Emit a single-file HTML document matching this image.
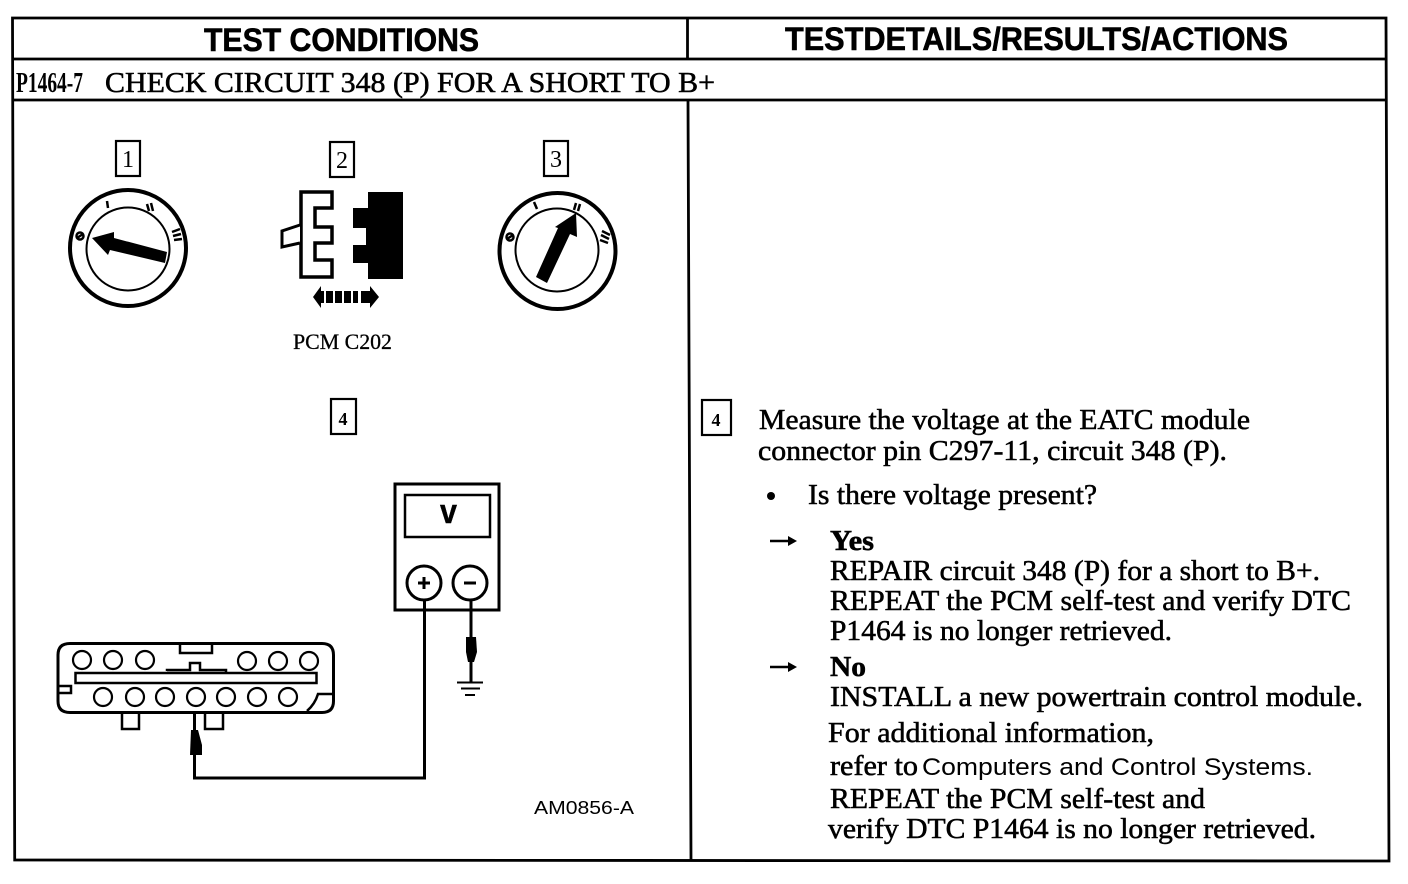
<!DOCTYPE html>
<html><head><meta charset="utf-8"><style>
html,body{margin:0;padding:0;background:#fff}
svg{display:block}
text{fill:#000}
.s{font-family:"Liberation Serif",serif}
.a{font-family:"Liberation Sans",sans-serif}
.t{font-family:"Liberation Serif",serif;font-size:29px;stroke:#000;stroke-width:.55px}
</style></head><body>
<svg width="1408" height="884" viewBox="0 0 1408 884" xmlns="http://www.w3.org/2000/svg">
<rect width="1408" height="884" fill="#fff"/>
<!-- table -->
<g fill="none" stroke="#000" stroke-width="2.8">
<path d="M12.5 18H1386L1389 861L14.7 860Z"/>
<path d="M13 59H1386M13.5 100H1387"/>
<path d="M687.5 18V59M688 100L691 860"/>
</g>
<g class="a" font-weight="bold" font-size="32" stroke="#000" stroke-width=".6">
<text x="204" y="51" textLength="275" lengthAdjust="spacingAndGlyphs">TEST CONDITIONS</text>
<text x="785" y="50" textLength="503" lengthAdjust="spacingAndGlyphs">TESTDETAILS/RESULTS/ACTIONS</text>
</g>
<text class="s" x="16" y="92" font-size="28" font-weight="bold" textLength="67" lengthAdjust="spacingAndGlyphs">P1464-7</text>
<text class="t" x="105" y="92" textLength="610" lengthAdjust="spacingAndGlyphs">CHECK CIRCUIT 348 (P) FOR A SHORT TO B+</text>

<!-- step boxes -->
<g fill="none" stroke="#000" stroke-width="2.2">
<rect x="116" y="141" width="24" height="35"/>
<rect x="330" y="142" width="24" height="35"/>
<rect x="544" y="141" width="24" height="35"/>
<rect x="331" y="399" width="25" height="35"/>
<rect x="702" y="400" width="29" height="35"/>
</g>
<g class="s" font-size="24" text-anchor="middle">
<text x="128" y="167">1</text><text x="342" y="168">2</text><text x="556" y="167">3</text>
<text x="343" y="425" font-size="18" font-weight="bold">4</text><text x="716" y="426" font-size="18" font-weight="bold">4</text>
</g>

<!-- ignition 1 -->
<g fill="none" stroke="#000">
<circle cx="128" cy="248" r="58" stroke-width="4"/>
<circle cx="128" cy="249" r="41.5" stroke-width="2"/>
</g>
<path d="M92 238L114 232V238L167 252L165 263L110 250L108 255Z" fill="#000"/>
<g fill="none" stroke="#000" stroke-width="2.5">
<circle cx="80" cy="236" r="3.5"/><path d="M77 238L83 234"/>
<path d="M107 201L108 208"/>
<path d="M147 204L149 211M151 203L153 211"/>
<path d="M172 232L180 229M173 236L181 234M174 240L182 239"/>
</g>
<!-- ignition 3 -->
<g fill="none" stroke="#000">
<circle cx="557.5" cy="251" r="58" stroke-width="4"/>
<circle cx="557" cy="250" r="41.5" stroke-width="2"/>
</g>
<path d="M576 213L577 237L570 234L547 283L536 277L558 228L555 227Z" fill="#000"/>
<g fill="none" stroke="#000" stroke-width="2.5">
<circle cx="510" cy="237" r="3.5"/><path d="M507 239L513 235"/>
<path d="M534 202L537 209"/>
<path d="M576 203L574 210M580 204L578 211"/>
<path d="M602 231L610 235M601 235L609 239M600 240L608 243"/>
</g>

<!-- connector 2 -->
<path d="M301 192H332V208H315V227H332V243H315V260H332V277H301Z" fill="#fff" stroke="#000" stroke-width="3.5"/>
<path d="M300 225L282 231V247L300 243" fill="#fff" stroke="#000" stroke-width="3"/>
<path d="M368 192H403V279H368V263H353V245H366V228H353V208H368Z" fill="#000"/>
<path d="M313 297L321 286V308Z M379 297L370 286V308Z" fill="#000"/>
<g fill="#000"><rect x="319" y="291" width="5" height="12"/><rect x="326" y="291" width="7" height="12"/><rect x="335" y="291" width="7" height="12"/><rect x="344" y="291" width="7" height="12"/><rect x="353" y="291" width="5" height="12"/><rect x="361" y="291" width="10" height="12"/></g>
<text class="s" x="293" y="349" font-size="22" textLength="99" lengthAdjust="spacingAndGlyphs" stroke="#000" stroke-width=".3">PCM C202</text>

<!-- meter -->
<g fill="none" stroke="#000">
<rect x="395" y="484" width="104" height="126" stroke-width="3"/>
<rect x="405" y="495" width="85" height="42" stroke-width="2.5"/>
<circle cx="424" cy="583" r="17" stroke-width="3"/>
<circle cx="470" cy="583" r="17" stroke-width="3"/>
</g>
<text class="a" x="440" y="523" font-size="34" font-weight="bold" textLength="17" lengthAdjust="spacingAndGlyphs" stroke="#000" stroke-width=".4">v</text>
<path d="M418 583H430M424 577V589M464 583H476" stroke="#000" stroke-width="3" fill="none"/>
<path d="M424.5 600V778H194.5V712" fill="none" stroke="#000" stroke-width="3"/>
<path d="M471 600V682" fill="none" stroke="#000" stroke-width="3"/>
<path d="M466 637H476L477 652L474 662H468L466 652Z" fill="#000"/>
<path d="M457 682.5H483M461 688.5H480M465 695H475" stroke="#000" stroke-width="2" fill="none"/>
<path d="M191 730H198L202 745V755H190Z" fill="#000"/>

<!-- connector -->
<g fill="none" stroke="#000" stroke-width="2.5">
<path d="M70 643.5H322Q333.5 643.5 333.5 655V701Q333.5 712.5 322 712.5H70Q58 712.5 58 701V655Q58 643.5 70 643.5Z" stroke-width="3"/>
<rect x="75.500" y="673" width="241" height="10"/>
<path d="M180 644V653H212V644"/>
<path d="M167 671V670H190V663H200V670H226V672"/>
<path d="M59 686H71V693H59"/>
<path d="M333 694H318Q315 704 307 711"/>
<path d="M122 713V729H139V713M205 713V729H223V713"/>
</g>
<g fill="none" stroke="#000" stroke-width="2.2">
<circle cx="82" cy="660" r="9"/><circle cx="113" cy="660" r="9"/><circle cx="145" cy="660" r="9"/>
<circle cx="247" cy="661" r="9"/><circle cx="278" cy="661" r="9"/><circle cx="309" cy="661" r="9"/>
<circle cx="103" cy="697" r="9"/><circle cx="135" cy="697" r="9"/><circle cx="165" cy="697" r="9"/><circle cx="196" cy="697" r="9"/><circle cx="226" cy="697" r="9"/><circle cx="257" cy="697" r="9"/><circle cx="288" cy="697" r="9"/>
</g>
<text class="a" x="534" y="814" font-size="18" textLength="100" lengthAdjust="spacingAndGlyphs">AM0856-A</text>

<!-- right text -->
<g class="t">
<text x="759" y="429" textLength="491" lengthAdjust="spacingAndGlyphs">Measure the voltage at the EATC module</text>
<text x="758" y="460" textLength="469" lengthAdjust="spacingAndGlyphs">connector pin C297-11, circuit 348 (P).</text>
<text x="808" y="504" textLength="289" lengthAdjust="spacingAndGlyphs">Is there voltage present?</text>
<text x="830" y="550" font-weight="bold" textLength="44" lengthAdjust="spacingAndGlyphs">Yes</text>
<text x="830" y="580" textLength="490" lengthAdjust="spacingAndGlyphs">REPAIR circuit 348 (P) for a short to B+.</text>
<text x="830" y="610" textLength="521" lengthAdjust="spacingAndGlyphs">REPEAT the PCM self-test and verify DTC</text>
<text x="830" y="640" textLength="342" lengthAdjust="spacingAndGlyphs">P1464 is no longer retrieved.</text>
<text x="830" y="676" font-weight="bold" textLength="36" lengthAdjust="spacingAndGlyphs">No</text>
<text x="830" y="706" textLength="533" lengthAdjust="spacingAndGlyphs">INSTALL a new powertrain control module.</text>
<text x="828" y="742" textLength="326" lengthAdjust="spacingAndGlyphs">For additional information,</text>
<text x="830" y="775" textLength="88" lengthAdjust="spacingAndGlyphs">refer to</text>
<text x="830" y="808" textLength="375" lengthAdjust="spacingAndGlyphs">REPEAT the PCM self-test and</text>
<text x="828" y="838" textLength="488" lengthAdjust="spacingAndGlyphs">verify DTC P1464 is no longer retrieved.</text>
</g>
<text class="a" x="922" y="775" font-size="24" textLength="391" lengthAdjust="spacingAndGlyphs">Computers and Control Systems.</text>
<circle cx="771" cy="496" r="4" fill="#000"/>
<path d="M770 541H794M770 667H794" stroke="#000" stroke-width="2.5" fill="none"/>
<path d="M797 541L788 536V546ZM797 667L788 662V672Z" fill="#000"/>
</svg>
</body></html>
